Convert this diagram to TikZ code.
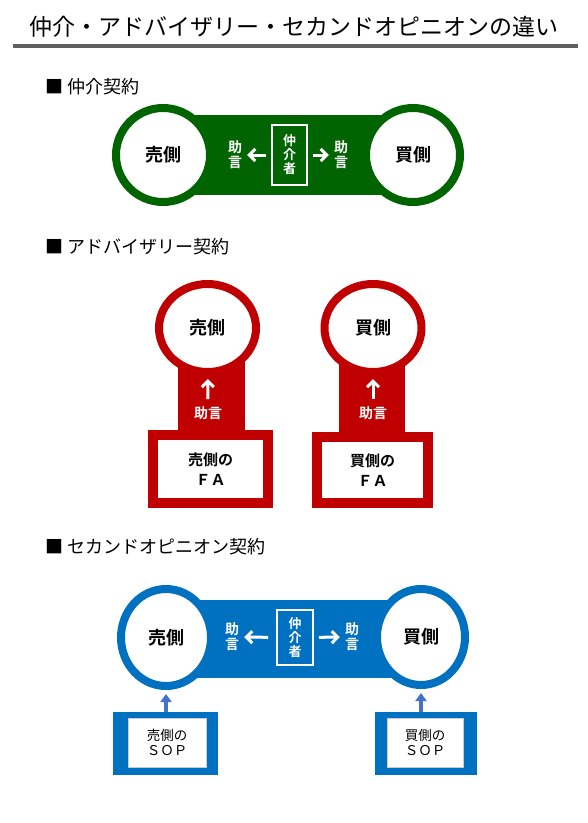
\documentclass[tikz,border=0pt]{standalone}
\usepackage{fontspec}
\setmainfont{Noto Sans CJK JP}[BoldFont={Noto Sans CJK JP Bold}]
\usepackage{xcolor}
\usetikzlibrary{shapes.geometric, arrows.meta, positioning, calc}
\definecolor{grn}{RGB}{0,100,0}
\definecolor{rd}{RGB}{192,0,0}
\definecolor{blu}{RGB}{0,112,192}
\definecolor{sopblue}{RGB}{68,114,196}
\definecolor{bar}{RGB}{96,96,96}
\newcommand{\fsz}[2]{\fontsize{#1}{#2}\selectfont}

\tikzset{
  party/.style={ellipse, draw=#1, line width=8pt, fill=white, inner sep=0pt, font=\fsz{18}{20}\bfseries},
  midbox/.style={draw=white, line width=1.8pt, text=white, font=\fsz{13}{14}\bfseries, align=center, inner sep=0pt, minimum width=35pt, minimum height=60pt},
  advice/.style={text=white, font=\fsz{14}{15}\bfseries, align=center, inner sep=2pt},
  adv/.style={white, line width=3pt, -{Straight Barb[length=6pt,width=12pt]}, shorten <=5pt, shorten >=3pt},
  fabox/.style={draw=rd, line width=10pt, fill=white, font=\fsz{15}{20}\bfseries, align=center, inner sep=0pt},
  sopframe/.style={fill=blu, inner sep=0pt},
  sopbox/.style={draw=black!20, line width=1pt, fill=white, font=\fsz{13.5}{15}, align=center, inner sep=0pt, minimum width=78pt, minimum height=49pt},
  soparr/.style={sopblue, line width=3.5pt, -{Triangle[length=8pt,width=11pt]}, shorten >=4pt},
  sect/.style={anchor=west, font=\fsz{18}{18}, inner sep=0pt},
}

\begin{document}
\begin{tikzpicture}[x=1pt,y=-1pt]
  \useasboundingbox (0,0) rectangle (588,823);

  \node[font=\fsz{23}{23}] (title) at (294,27) {仲介・アドバイザリー・セカンドオピニオンの違い};
  \fill[bar] (13,44) rectangle (578,48);

  \node[sect] (h1) at (45,87) {■ 仲介契約};
  \fill[grn] (163,115) rectangle (413,195);
  \node[party=grn, minimum width=94pt, minimum height=94pt] (sel1) at (163,155) {売側};
  \node[party=grn, minimum width=94pt, minimum height=94pt] (buy1) at (413,155) {買側};
  \node[midbox] (mid1) at (289.5,155) {仲\\介\\者};
  \node[advice] (adl1) at (235,155) {助\\言};
  \node[advice] (adr1) at (341,155) {助\\言};
  \draw[adv] (mid1) -- (adl1);
  \draw[adv] (mid1) -- (adr1);

  \node[sect] (h2) at (45,247) {■ アドバイザリー契約};
  \fill[rd] (178,328) rectangle (245,432);
  \fill[rd] (339,328) rectangle (405,432);
  \node[party=rd, minimum width=97pt, minimum height=88pt] (sel2) at (207.5,328) {売側};
  \node[party=rd, minimum width=97pt, minimum height=88pt] (buy2) at (373,328) {買側};
  \node[fabox, minimum width=115pt, minimum height=68pt] (fas) at (210.5,469) {売側の\\ＦＡ};
  \node[fabox, minimum width=111pt, minimum height=66pt] (fab) at (372.5,470) {買側の\\ＦＡ};
  \node[advice] (ads) at (208,413) {助言};
  \node[advice] (adb) at (373,413) {助言};
  \draw[adv] (ads) -- (sel2);
  \draw[adv] (adb) -- (buy2);

  \node[sect] (h3) at (45,547) {■ セカンドオピニオン契約};
  \fill[blu] (166,600) rectangle (421,678);
  \node[party=blu, minimum width=90pt, minimum height=97pt] (sel3) at (166,637.5) {売側};
  \node[party=blu, minimum width=88pt, minimum height=96pt] (buy3) at (421,637) {買側};
  \node[midbox, minimum width=36pt, minimum height=55pt] (mid3) at (295,637.5) {仲\\介\\者};
  \node[advice] (adl3) at (232,637) {助\\言};
  \node[advice] (adr3) at (352,637) {助\\言};
  \draw[adv, shorten <=8pt] (mid3) -- (adl3);
  \draw[adv] (mid3) -- (adr3);

  \node[sopframe, minimum width=105pt, minimum height=63pt] (sopsf) at (165.5,743.5) {};
  \node[sopbox] (sops) at (167,742.5) {売側の\\ＳＯＰ};
  \node[sopframe, minimum width=102pt, minimum height=63pt] (sopbf) at (426,743.5) {};
  \node[sopbox, minimum width=76pt] (sopb) at (425,742.5) {買側の\\ＳＯＰ};
  \draw[soparr] (sopsf.north -| sel3.south) -- (sel3.south);
  \draw[soparr] (sopbf.north -| buy3.south) -- (buy3.south);
\end{tikzpicture}
\end{document}
